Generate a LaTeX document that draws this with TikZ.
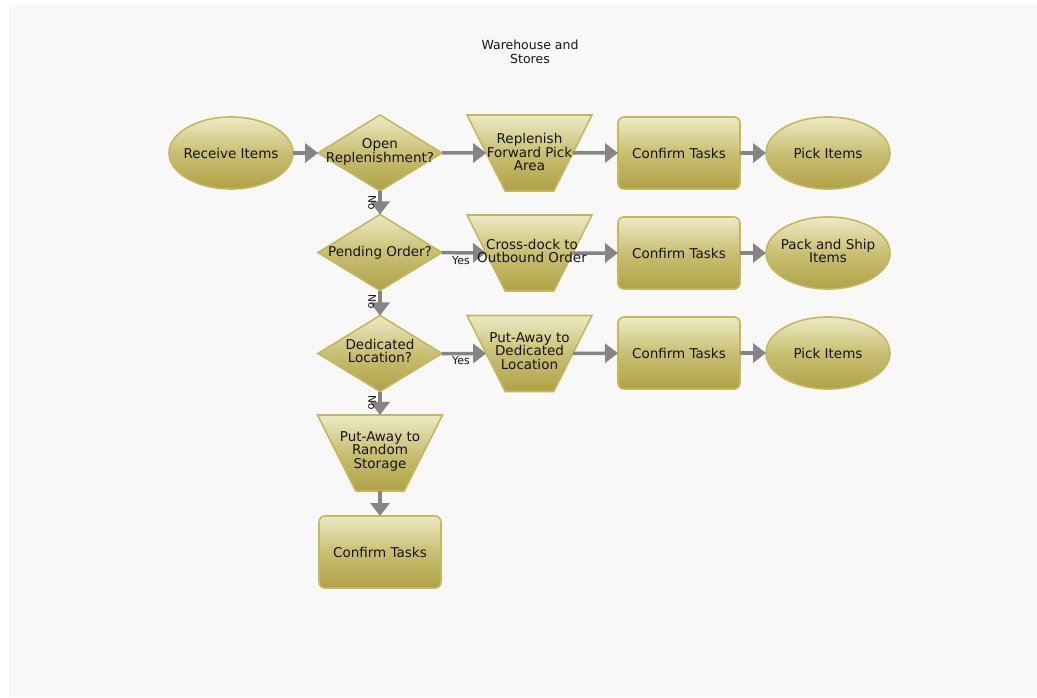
\documentclass[tikz,border=0pt]{standalone}
\usepackage{fontspec}
\setmainfont{DejaVu Sans}
\usetikzlibrary{shapes.geometric,arrows.meta}
\definecolor{fillA}{HTML}{EDEAC4}
\definecolor{fillB}{HTML}{C9BF72}
\definecolor{fillC}{HTML}{AFA246}
\definecolor{edgeC}{HTML}{C4B85C}
\definecolor{arrowC}{HTML}{858585}
\definecolor{txtC}{HTML}{141414}
\definecolor{panelC}{HTML}{F8F8F8}
\tikzset{
  shp/.style={draw=edgeC, line width=1.6pt, top color=fillA, bottom color=fillC, middle color=fillB, inner sep=0pt, outer sep=0pt},
  ell/.style={shp, ellipse, minimum width=124pt, minimum height=72pt},
  dia/.style={shp, diamond, minimum width=124pt, minimum height=76pt},
  trap/.style={shp, trapezium, inner sep=3pt, trapezium stretches=true, shape border rotate=180,
    trapezium left angle=75.3, trapezium right angle=75.3, minimum width=125pt, minimum height=76pt},
  boxnode/.style={shp, rectangle, rounded corners=6pt, minimum width=122pt, minimum height=72pt},
  txt/.style={font=\fontsize{13.5}{13.5}\selectfont, text=txtC, align=center, inner sep=0pt},
  ttl/.style={font=\fontsize{12.5}{14}\selectfont, text=txtC, align=center, inner sep=0pt},
  yeslbl/.style={font=\fontsize{11}{12}\selectfont, text=txtC, inner sep=0pt},
  nolbl/.style={font=\fontsize{10.5}{12}\selectfont, text=txtC, inner sep=0pt, rotate=-90},
  arr/.style={draw=arrowC, line width=3.5pt, -{Triangle[length=13pt,width=19pt]}}
}
\begin{document}
\begin{tikzpicture}[x=1pt,y=-1pt]
\useasboundingbox (0,0) rectangle (1037,698);
\fill[white] (0,0) rectangle (1037,698);
\fill[panelC] (9,5) rectangle (1037,697);

% title
\node[ttl] (title) at (530,52) {Warehouse and\\Stores};

% shapes
\node[ell] (recv) at (231,153) {};
\node[dia] (open) at (380,153) {};
\node[trap] (rep) at (529.5,153) {\strut};
\node[boxnode] (c1) at (679,153) {};
\node[ell] (p1) at (828,153) {};

\node[dia] (pend) at (380,252.5) {};
\node[trap] (cross) at (529.5,253) {\strut};
\node[boxnode] (c2) at (679,253) {};
\node[ell] (pack) at (828,253) {};

\node[dia] (ded) at (380,353.5) {};
\node[trap] (putd) at (529.5,353.5) {\strut};
\node[boxnode] (c3) at (679,353) {};
\node[ell] (p3) at (828,353) {};

\node[trap] (putr) at (380,453) {\strut};
\node[boxnode] (c4) at (380,552) {};

% connectors
\draw[arr] (recv) -- (open);
\draw[arr] (open) -- (rep);
\draw[arr] (rep) -- (c1);
\draw[arr] (c1) -- (p1);
\draw[arr] (open) -- (pend);

\draw[arr] (pend) -- (cross);
\draw[arr] (cross) -- (c2);
\draw[arr] (c2) -- (pack);
\draw[arr] (pend) -- (ded);

\draw[arr] (ded) -- (putd);
\draw[arr] (putd) -- (c3);
\draw[arr] (c3) -- (p3);
\draw[arr] (ded) -- (putr);
\draw[arr] (putr) -- (c4);

% connector labels
\node[nolbl] (no1) at (372,203) {No};
\node[nolbl] (no2) at (372,302) {No};
\node[nolbl] (no3) at (372,403) {No};
\node[yeslbl] (yes1) at (461,261) {Yes};
\node[yeslbl] (yes2) at (461,361) {Yes};

% texts
\node[txt] (trecv) at (recv) {Receive Items};
\node[txt] (topen) at (380,152) {Open\\Replenishment?};
\node[txt] (trep) at (529.5,152) {Replenish\\Forward Pick\\Area};
\node[txt] (tc1) at (c1) {Confirm Tasks};
\node[txt] (tp1) at (p1) {Pick Items};

\node[txt] (tpend) at (pend) {Pending Order?};
\node[txt] (tcross) at (532,251) {Cross-dock to\\Outbound Order};
\node[txt] (tc2) at (c2) {Confirm Tasks};
\node[txt] (tpack) at (828,251) {Pack and Ship\\Items};

\node[txt] (tded) at (380,351) {Dedicated\\Location?};
\node[txt] (tputd) at (529.5,351) {Put-Away to\\Dedicated\\Location};
\node[txt] (tc3) at (c3) {Confirm Tasks};
\node[txt] (tp3) at (p3) {Pick Items};

\node[txt] (tputr) at (380,451) {Put-Away to\\Random\\Storage};
\node[txt] (tc4) at (c4) {Confirm Tasks};
\end{tikzpicture}
\end{document}
